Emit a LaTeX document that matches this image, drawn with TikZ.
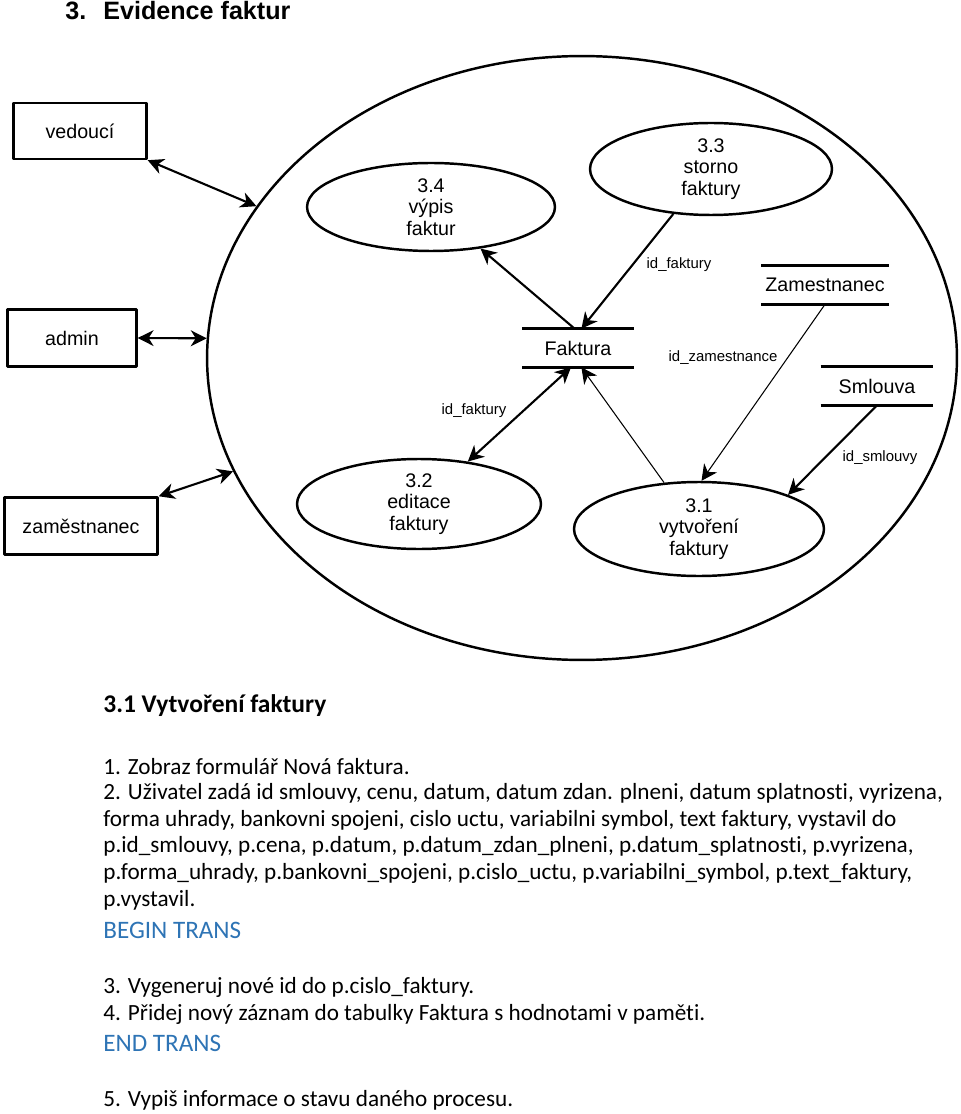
\documentclass[tikz,border=0pt]{standalone}
\usepackage{fontspec}
\setmainfont{Carlito}[Ligatures=NoCommon]
\newfontfamily\arialf{Liberation Sans}
\usetikzlibrary{shapes.geometric,arrows.meta}
\definecolor{modra}{RGB}{46,116,181}
\tikzset{hrot/.tip={Stealth[length=9pt,width=9pt,inset=2.8pt]}}

\begin{document}
\begin{tikzpicture}[x=0.02cm,y=-0.02cm,line join=round,
  tvar/.style={draw,line width=1.4pt},
  proces/.style={tvar,ellipse,inner sep=0pt,align=center,font={\arialf\fontsize{11.2}{12.2}\selectfont}},
  entita/.style={tvar,rectangle,inner sep=0pt,font={\arialf\fontsize{11.2}{13}\selectfont}},
  sklad/.style={rectangle,inner sep=0pt,minimum height=0.76cm,font={\arialf\fontsize{11.2}{13}\selectfont}},
  popis/.style={inner sep=0pt,font={\arialf\fontsize{8.5}{10}\selectfont}},
  tok/.style={line width=1.2pt,-hrot},
  tokobe/.style={line width=1.2pt,hrot-hrot},
  tenky/.style={line width=0.6pt,-hrot},
  radek/.style={anchor=base west,inner sep=0pt,font={\fontsize{13.2}{15}\selectfont}},
  trans/.style={radek,text=modra,font={\fontsize{14.3}{16}\selectfont}}]

% ===== 画布 =====
\useasboundingbox (0,0) rectangle (960,1114);

% ===== 标题 =====
\node[anchor=base west,inner sep=0pt,font={\arialf\bfseries\fontsize{14.3}{16}\selectfont}] (nadpis) at (65,20) {\makebox[0.76cm][l]{3.}Evidence faktur};

% ===== 系统边界 =====
\node[tvar,ellipse,minimum width=15cm,minimum height=12.08cm] (sys) at (582,358) {};

% ===== 外部实体 =====
\node[entita,minimum width=2.66cm,minimum height=1.12cm] (ved) at (80,131) {vedoucí};
\node[entita,minimum width=2.58cm,minimum height=1.14cm] (adm) at (72,338) {admin};
\node[entita,minimum width=3.06cm,minimum height=1.14cm] (zmc) at (81,526) {zaměstnanec};

% ===== 过程 =====
\node[proces,minimum width=4.96cm,minimum height=1.76cm] (p34) at (431,207) {3.4\\výpis\\faktur};
\node[proces,minimum width=4.84cm,minimum height=1.84cm] (p33) at (711,169) {3.3\\storno\\faktury};
\node[proces,minimum width=4.88cm,minimum height=1.8cm] (p32) at (419,504) {3.2\\editace\\faktury};
\node[proces,minimum width=5cm,minimum height=1.88cm] (p31) at (699,529) {3.1\\vytvoření\\faktury};

% ===== 数据存储(上下两条线) =====
\node[sklad,minimum width=2.22cm] (fak) at (578,348) {Faktura};
\node[sklad,minimum width=2.54cm] (zam) at (825,285) {Zamestnanec};
\node[sklad,minimum width=2.24cm] (sml) at (877,386) {Smlouva};
\foreach \s in {fak,zam,sml}
  \draw[tvar] (\s.north west) -- (\s.north east) (\s.south west) -- (\s.south east);

% ===== 数据流 =====
\draw[tokobe] (ved.south east) -- (sys.155.7);
\draw[tokobe] (adm.east) -- (sys.177.3);
\draw[tokobe] (zmc.north east) -- (sys.198.6);
\draw[tok] (fak.100) -- (p34.-40);
\draw[tok] (p33.230) -- (fak.80);
\draw[tokobe] (fak.-110) -- (p32.41);
\draw[tenky] (p31.127) -- (fak.-80);
\draw[tenky] (zam.south) -- (p31.87);
\draw[tok] (sml.south) -- (p31.21);

% 流的标注
\node[popis] (lf1) at (679,265) {id\_faktury};
\node[popis] (lzm) at (723,358) {id\_zamestnance};
\node[popis] (lf2) at (474,411) {id\_faktury};
\node[popis] (lsm) at (880,458) {id\_smlouvy};

% ===== 说明文字 =====
\node[radek,font={\bfseries\fontsize{14.5}{16}\selectfont}] (t0) at (103,712) {3.1 Vytvoření faktury};
\node[radek] (t1) at (103,774) {1. Zobraz formulář Nová faktura.};
\node[radek] (t2) at (103,799) {2. Uživatel zadá id smlouvy, cenu, datum, datum zdan. plneni, datum splatnosti, vyrizena,};
\node[radek] (t3) at (103,826) {forma uhrady, bankovni spojeni, cislo uctu, variabilni symbol, text faktury, vystavil do};
\node[radek] (t4) at (103,852) {p.id\_smlouvy, p.cena, p.datum, p.datum\_zdan\_plneni, p.datum\_splatnosti, p.vyrizena,};
\node[radek] (t5) at (103,879) {p.forma\_uhrady, p.bankovni\_spojeni, p.cislo\_uctu, p.variabilni\_symbol, p.text\_faktury,};
\node[radek] (t6) at (103,906) {p.vystavil.};
\node[trans] (t7) at (103,938) {BEGIN TRANS};
\node[radek] (t8) at (103,993) {3. Vygeneruj nové id do p.cislo\_faktury.};
\node[radek] (t9) at (103,1020) {4. Přidej nový záznam do tabulky Faktura s hodnotami v paměti.};
\node[trans] (t10) at (103,1051) {END TRANS};
\node[radek] (t11) at (103,1106) {5. Vypiš informace o stavu daného procesu.};

\end{tikzpicture}
\end{document}
